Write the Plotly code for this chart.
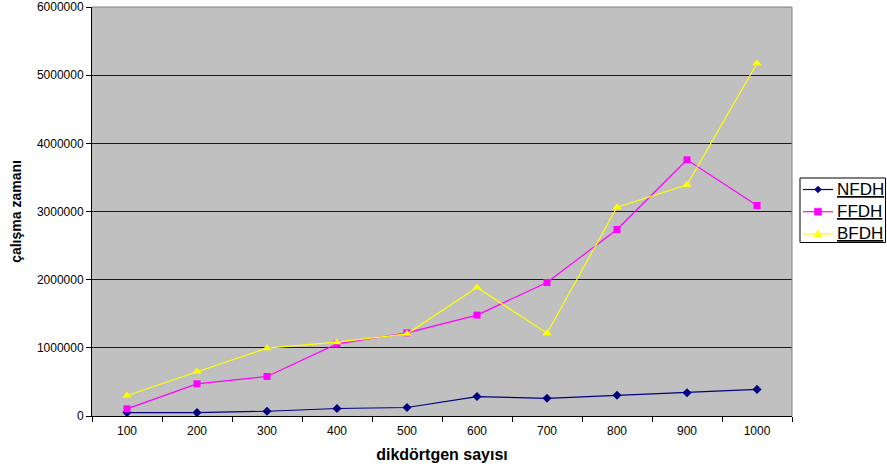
import plotly.graph_objects as go

# rectangle counts (x categories)
dikdortgen = ["100", "200", "300", "400", "500", "600", "700", "800", "900", "1000"]

# running times per algorithm
nfdh = [50000, 50000, 70000, 110000, 125000, 285000, 260000, 305000, 340000, 390000]
ffdh = [105000, 472000, 580000, 1058000, 1220000, 1480000, 1958000, 2736000, 3758000, 3088000]
bfdh = [300000, 653000, 995000, 1083000, 1205000, 1885000, 1215000, 3063000, 3391000, 5175000]

y_ticks = [0, 1000000, 2000000, 3000000, 4000000, 5000000, 6000000]

series = [
    ("NFDH", nfdh, "#000080", "diamond", 7),
    ("FFDH", ffdh, "#FF00FF", "square", 7),
    ("BFDH", bfdh, "#FFFF00", "triangle-up", 8),
]

W, H = 887, 473
ML, MR, MT, MB = 92, 95, 7, 57
PW, PH = W - ML - MR, H - MT - MB


def px(x):
    return (x - ML) / PW


def py(y):
    return (H - MB - y) / PH


fig = go.Figure()
for name, vals, color, sym, size in series:
    fig.add_trace(go.Scatter(
        x=dikdortgen, y=vals, name=name,
        mode="lines+markers",
        line=dict(color=color, width=1.2),
        marker=dict(symbol=sym, size=size, color=color),
        showlegend=False,
    ))

# legend box drawn on the right, outside the plot area
shapes = [
    dict(type="rect", xref="paper", yref="paper",
         x0=px(800), x1=px(885.5), y0=py(242.5), y1=py(178),
         line=dict(color="black", width=1), fillcolor="white", layer="above"),
    # light frame on top and right edges of the plot area
    dict(type="line", xref="paper", yref="paper", x0=0, x1=1, y0=1, y1=1,
         line=dict(color="#808080", width=1)),
    dict(type="line", xref="paper", yref="paper", x0=1, x1=1, y0=0, y1=1,
         line=dict(color="#808080", width=1)),
]
annotations = []


def marker_path(sym, cx, cy):
    if sym == "diamond":
        pts = [(cx, cy - 3.5), (cx + 3.5, cy), (cx, cy + 3.5), (cx - 3.5, cy)]
    elif sym == "square":
        pts = [(cx - 3.5, cy - 3.5), (cx + 3.5, cy - 3.5), (cx + 3.5, cy + 3.5), (cx - 3.5, cy + 3.5)]
    else:
        pts = [(cx, cy - 4.5), (cx + 4, cy + 3), (cx - 4, cy + 3)]
    return "M " + " L ".join(f"{px(a):.5f},{py(b):.5f}" for a, b in pts) + " Z"


for i, (name, _, color, sym, _) in enumerate(series):
    cy = 189.5 + i * 22.2
    shapes.append(dict(type="line", xref="paper", yref="paper",
                       x0=px(803), x1=px(833), y0=py(cy), y1=py(cy),
                       line=dict(color=color, width=1.2), layer="above"))
    shapes.append(dict(type="path", xref="paper", yref="paper",
                       path=marker_path(sym, 818, cy),
                       fillcolor=color, line=dict(color=color, width=0.5), layer="above"))
    annotations.append(dict(xref="paper", yref="paper", x=px(835), y=py(cy),
                            xanchor="left", yanchor="middle", showarrow=False,
                            text="<u>" + name + "</u>",
                            font=dict(size=17, color="black")))

fig.update_layout(
    width=W, height=H,
    margin=dict(l=ML, r=MR, t=MT, b=MB),
    paper_bgcolor="white",
    plot_bgcolor="#C0C0C0",
    font=dict(family="Arial, Liberation Sans, sans-serif", size=12, color="black"),
    showlegend=False,
    shapes=shapes,
    annotations=annotations,
    xaxis=dict(
        type="category",
        automargin=False,
        tickson="boundaries",
        ticks="outside", ticklen=5, tickcolor="black",
        ticklabelstandoff=4,
        showline=True, linecolor="black", linewidth=1,
        showgrid=False,
        range=[-0.5, 9.5],
        title=dict(text="<b>dikdörtgen sayısı</b>", font=dict(size=16), standoff=11),
    ),
    yaxis=dict(
        automargin=False,
        range=[0, 6000000],
        tickvals=y_ticks,
        ticktext=[str(v) for v in y_ticks],
        ticks="outside", ticklen=5, tickcolor="black",
        showline=True, linecolor="black", linewidth=1,
        showgrid=True, gridcolor="#1a1a1a", gridwidth=1,
        zeroline=False,
        title=dict(text="<b>çalışma zamanı</b>", font=dict(size=14), standoff=11),
    ),
)

fig.write_html("out.html")
